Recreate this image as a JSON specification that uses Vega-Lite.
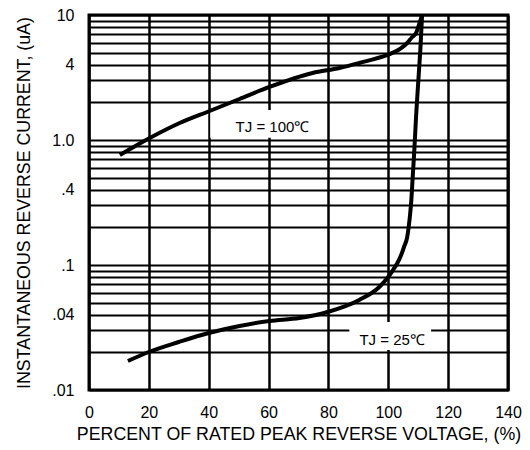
{
  "$schema": "https://vega.github.io/schema/vega-lite/v6.json",
  "width": 419,
  "height": 375,
  "autosize": "none",
  "padding": {"left": 89, "top": 15, "right": 22, "bottom": 60},
  "background": "white",
  "config": {
    "font": "Liberation Sans",
    "view": {"stroke": "black", "strokeWidth": 3}
  },
  "datasets": {
    "curves": [
      {"series": "100C", "x": 10.3, "y": 0.7586},
      {"series": "100C", "x": 20.3, "y": 1.038},
      {"series": "100C", "x": 30.3, "y": 1.368},
      {"series": "100C", "x": 40.3, "y": 1.706},
      {"series": "100C", "x": 50.3, "y": 2.128},
      {"series": "100C", "x": 60.3, "y": 2.655},
      {"series": "100C", "x": 74.7, "y": 3.436},
      {"series": "100C", "x": 83.7, "y": 3.767},
      {"series": "100C", "x": 90.3, "y": 4.13},
      {"series": "100C", "x": 99.7, "y": 4.79},
      {"series": "100C", "x": 102.0, "y": 5.05},
      {"series": "100C", "x": 104.3, "y": 5.43},
      {"series": "100C", "x": 106.3, "y": 5.97},
      {"series": "100C", "x": 108.0, "y": 6.67},
      {"series": "100C", "x": 109.3, "y": 7.18},
      {"series": "100C", "x": 110.3, "y": 8.41},
      {"series": "100C", "x": 111.3, "y": 10},
      {"series": "25C", "x": 13.0, "y": 0.01706},
      {"series": "25C", "x": 20.0, "y": 0.02014},
      {"series": "25C", "x": 30.0, "y": 0.02421},
      {"series": "25C", "x": 40.0, "y": 0.02858},
      {"series": "25C", "x": 50.3, "y": 0.03251},
      {"series": "25C", "x": 60.3, "y": 0.03565},
      {"series": "25C", "x": 70.3, "y": 0.03767},
      {"series": "25C", "x": 79.7, "y": 0.04207},
      {"series": "25C", "x": 90.3, "y": 0.05248},
      {"series": "25C", "x": 97.0, "y": 0.06668},
      {"series": "25C", "x": 99.7, "y": 0.0787},
      {"series": "25C", "x": 101.3, "y": 0.0891},
      {"series": "25C", "x": 103.0, "y": 0.1032},
      {"series": "25C", "x": 104.3, "y": 0.1202},
      {"series": "25C", "x": 105.3, "y": 0.1406},
      {"series": "25C", "x": 106.3, "y": 0.1663},
      {"series": "25C", "x": 106.8, "y": 0.2003},
      {"series": "25C", "x": 107.3, "y": 0.2551},
      {"series": "25C", "x": 107.7, "y": 0.3311},
      {"series": "25C", "x": 108.2, "y": 0.5248},
      {"series": "25C", "x": 108.7, "y": 0.8318},
      {"series": "25C", "x": 109.3, "y": 1.563},
      {"series": "25C", "x": 110.0, "y": 2.884},
      {"series": "25C", "x": 110.7, "y": 5.248},
      {"series": "25C", "x": 111.3, "y": 10}
    ],
    "boxes": [
      {"x": 40.5, "x2": 79.3, "y": 1.04, "y2": 1.74},
      {"x": 87, "x2": 114.3, "y": 0.0209, "y2": 0.035}
    ],
    "labels": [
      {"x": 61.3, "y": 1.27, "label": "TJ = 100℃"},
      {"x": 101.3, "y": 0.0251, "label": "TJ = 25℃"}
    ]
  },
  "layer": [
    {
      "data": {"name": "boxes"},
      "mark": {"type": "rect", "fill": "white", "stroke": null},
      "encoding": {
        "x": {
          "field": "x", "type": "quantitative",
          "scale": {"domain": [0, 140], "nice": false},
          "axis": {
            "values": [0, 20, 40, 60, 80, 100, 120, 140],
            "grid": true, "gridColor": "black", "gridWidth": 2.5, "gridOpacity": 1,
            "ticks": false, "domain": false,
            "labelFont": "Liberation Sans", "labelFontSize": 16, "labelColor": "black", "labelPadding": 14, "labelFlush": false,
            "title": "PERCENT OF RATED PEAK REVERSE VOLTAGE, (%)",
            "titleFont": "Liberation Sans", "titleFontSize": 17.8, "titleFontWeight": "normal", "titleColor": "black", "titlePadding": 5
          }
        },
        "x2": {"field": "x2"},
        "y": {
          "field": "y", "type": "quantitative",
          "scale": {"type": "log", "domain": [0.01, 10], "nice": false},
          "axis": {
            "values": [0.01, 0.02, 0.03, 0.04, 0.05, 0.06, 0.07, 0.08, 0.09, 0.1, 0.2, 0.3, 0.4, 0.5, 0.6, 0.7, 0.8, 0.9, 1, 2, 3, 4, 5, 6, 7, 8, 9, 10],
            "labelExpr": "datum.value == 10 ? '10' : datum.value == 4 ? '4' : datum.value == 1 ? '1.0' : datum.value == 0.4 ? '.4' : datum.value == 0.1 ? '.1' : datum.value == 0.04 ? '.04' : datum.value == 0.01 ? '.01' : ''",
            "labelOverlap": false, "labelBound": false, "labelFlush": false,
            "grid": true, "gridColor": "black", "gridWidth": 2.2, "gridOpacity": 1,
            "ticks": false, "domain": false,
            "labelFont": "Liberation Sans", "labelFontSize": 16, "labelColor": "black", "labelPadding": 15,
            "title": "INSTANTANEOUS REVERSE CURRENT, (uA)",
            "titleFont": "Liberation Sans", "titleFontSize": 17.8, "titleFontWeight": "normal", "titleColor": "black", "titlePadding": 18
          }
        },
        "y2": {"field": "y2"}
      }
    },
    {
      "data": {"name": "curves"},
      "mark": {"type": "line", "color": "black", "strokeWidth": 4, "interpolate": "monotone", "clip": true},
      "encoding": {
        "x": {"field": "x", "type": "quantitative"},
        "y": {"field": "y", "type": "quantitative"},
        "detail": {"field": "series"}
      }
    },
    {
      "data": {"name": "labels"},
      "mark": {"type": "text", "color": "black", "font": "Liberation Sans", "fontSize": 15, "align": "center", "baseline": "middle"},
      "encoding": {
        "x": {"field": "x", "type": "quantitative"},
        "y": {"field": "y", "type": "quantitative"},
        "text": {"field": "label"}
      }
    }
  ]
}
